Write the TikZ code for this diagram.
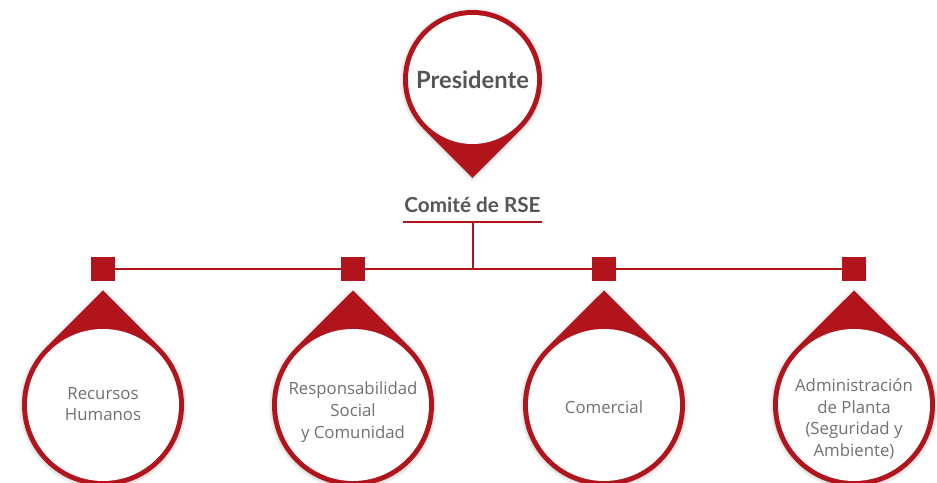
\documentclass[tikz,border=0pt]{standalone}
\usepackage{fontspec}
\setmainfont{Open Sans}
\newfontfamily\boldfam{Lato}
\usetikzlibrary{shadows.blur,calc}
\definecolor{rseRed}{RGB}{178,20,28}
\definecolor{darkText}{RGB}{85,86,88}
\definecolor{lightText}{RGB}{112,113,115}
\tikzset{
  pinfill/.style={fill=rseRed, blur shadow={shadow xshift=0pt, shadow yshift=-1pt, shadow blur radius=4pt, shadow opacity=25}},
  innerdisc/.style={circle, fill=white, inner sep=0pt},
  deptext/.style={font=\fontsize{16.8}{21.7}\selectfont, text=lightText, align=center, inner sep=0pt},
  sqbox/.style={fill=rseRed, minimum size=24pt, inner sep=0pt},
  link/.style={draw=rseRed, line width=2pt}
}
\begin{document}
\begin{tikzpicture}[x=1pt,y=1pt]
\useasboundingbox (0,0) rectangle (937,482);
% top pin
\path[pinfill] (472.5,304.2) -- ($(472.5,402.5)+(225:69.5)$) arc[start angle=225, end angle=-45, radius=69.5] -- cycle;
\node[innerdisc, minimum size=129pt, font=\boldfam\bfseries\fontsize{23.7}{28}\selectfont, text=darkText] (pres) at (472.5,402.5) {Presidente};
% comite
\node[font=\boldfam\bfseries\fontsize{20.7}{24}\selectfont, text=darkText] (comite) at (472.5,277) {Comité de RSE};
\coordinate (ul) at (472.5,260);
% squares
\node[sqbox] (sq1) at (103,213) {};
\node[sqbox] (sq2) at (353,213) {};
\node[sqbox] (sq3) at (604,213) {};
\node[sqbox] (sq4) at (854,213) {};
\draw[link] (sq1.east) -- (sq4.west);
\draw[link] ([xshift=-69.5pt]ul) -- ([xshift=69.5pt]ul);
\draw[link] (ul) -- (ul |- sq1.center);
% bottom pins
\foreach \x/\nm/\ty/\txt in {103/d1/78/{Recursos\\Humanos}, 353/d2/70/{Responsabilidad\\Social\\y Comunidad}, 604/d3/75/{Comercial}, 854/d4/63/{Administración\\de Planta\\(Seguridad y\\Ambiente)}}{
  \path[pinfill] (\x,191.5) -- ($(\x,77)+(135:81)$) arc[start angle=135, end angle=405, radius=81] -- cycle;
  \node[innerdisc, minimum size=152pt] (\nm) at (\x,77) {};
  \node[deptext] (\nm t) at (\x,\ty) {\txt};
}
\end{tikzpicture}
\end{document}
